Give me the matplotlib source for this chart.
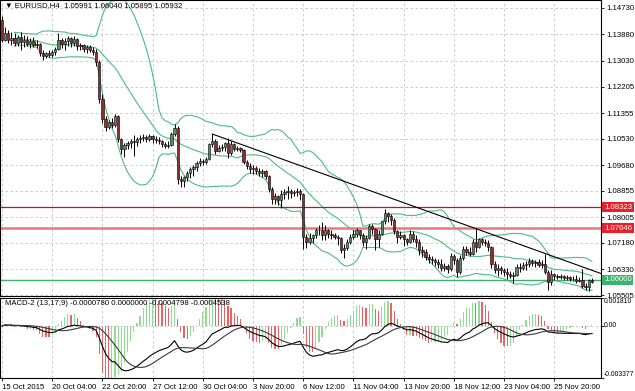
import matplotlib
matplotlib.use("Agg")
import numpy as np
import pandas as pd
from matplotlib import pyplot as plt

plt.rcParams['font.family'] = ['Liberation Sans', 'DejaVu Sans']

# EURUSD H4 bars, 15 Oct - 27 Nov 2015
opens = [
    1.1434, 1.1370, 1.1392, 1.1370, 1.1376, 1.1360, 1.1379, 1.1363, 1.1370, 1.1357, 1.1366, 1.1353, 1.1357, 1.1327, 1.1318,
    1.1327, 1.1321, 1.1331, 1.1340, 1.1370, 1.1357, 1.1366, 1.1376, 1.1360, 1.1373, 1.1350, 1.1353, 1.1340, 1.1347, 1.1337,
    1.1331, 1.1298, 1.1182, 1.1117, 1.1091, 1.1107, 1.1098, 1.1127, 1.1052, 1.1020, 1.1033, 1.1039, 1.1046, 1.1043, 1.1052,
    1.1055, 1.1059, 1.1052, 1.1062, 1.1052,
    1.1049, 1.1046, 1.1036, 1.1030, 1.1033, 1.1068, 1.1088, 1.0923, 1.0916, 1.0929, 1.0942, 1.0955, 1.0962, 1.0975, 1.0981,
    1.0978, 1.0988, 1.1036, 1.1046, 1.1013,
    1.1023, 1.1026, 1.1039, 1.1007, 1.1036, 1.1020, 1.1023, 1.1017, 1.0978, 1.0965, 1.0955, 1.0958, 1.0949, 1.0942, 1.0949,
    1.0933, 1.0890, 1.0858, 1.0868, 1.0855,
    1.0874, 1.0881, 1.0884, 1.0878, 1.0881, 1.0884, 1.0874, 1.0738, 1.0722, 1.0735, 1.0742, 1.0758, 1.0761, 1.0742, 1.0761,
    1.0748, 1.0745, 1.0738, 1.0735, 1.0696,
    1.0703, 1.0722, 1.0738, 1.0748, 1.0758, 1.0745, 1.0722, 1.0735, 1.0771, 1.0764, 1.0732, 1.0748, 1.0787, 1.0813, 1.0803,
    1.0793, 1.0755, 1.0738, 1.0745, 1.0729,
    1.0722, 1.0748, 1.0729, 1.0722, 1.0696, 1.0690, 1.0674, 1.0667, 1.0664, 1.0657, 1.0651, 1.0638, 1.0644, 1.0635, 1.0677,
    1.0664, 1.0625, 1.0670, 1.0699, 1.0690,
    1.0683, 1.0722, 1.0706, 1.0729, 1.0722, 1.0719, 1.0706, 1.0651, 1.0632, 1.0638, 1.0632, 1.0625, 1.0619, 1.0612, 1.0615,
    1.0641, 1.0638, 1.0648, 1.0651, 1.0661,
    1.0654, 1.0657, 1.0648, 1.0651, 1.0625, 1.0593, 1.0619, 1.0612, 1.0609, 1.0612, 1.0606, 1.0609, 1.0602, 1.0602, 1.0596,
    1.0599, 1.0580, 1.0577, 1.05991,
]
highs = [
    1.1447, 1.1412, 1.1402, 1.1395, 1.1392, 1.1386, 1.1395, 1.1386, 1.1382, 1.1376, 1.1379, 1.1370, 1.1360, 1.1337, 1.1331,
    1.1337, 1.1337, 1.1347, 1.1392, 1.1376, 1.1376, 1.1382, 1.1379, 1.1382, 1.1376, 1.1360, 1.1357, 1.1353, 1.1353, 1.1347,
    1.1340, 1.1305, 1.1198, 1.1127, 1.1114, 1.1120, 1.1133, 1.1130, 1.1055, 1.1039, 1.1046, 1.1052, 1.1065, 1.1059, 1.1065,
    1.1068, 1.1065, 1.1068, 1.1065, 1.1062,
    1.1059, 1.1049, 1.1043, 1.1046, 1.1075, 1.1101, 1.1094, 1.0933, 1.0933, 1.0949, 1.0962, 1.0968, 1.0981, 1.0991, 1.0988,
    1.0994, 1.1039, 1.1068, 1.1052, 1.1033,
    1.1036, 1.1043, 1.1055, 1.1046, 1.1039, 1.1030, 1.1026, 1.1020, 1.0984, 1.0975, 1.0968, 1.0965, 1.0958, 1.0955, 1.0952,
    1.0936, 1.0897, 1.0878, 1.0871, 1.0887,
    1.0890, 1.0900, 1.0890, 1.0887, 1.0894, 1.0890, 1.0878, 1.0748, 1.0751, 1.0748, 1.0767, 1.0774, 1.0784, 1.0774, 1.0764,
    1.0758, 1.0751, 1.0745, 1.0738, 1.0716,
    1.0729, 1.0748, 1.0761, 1.0767, 1.0761, 1.0751, 1.0745, 1.0780, 1.0780, 1.0767, 1.0758, 1.0790, 1.0826, 1.0816, 1.0810,
    1.0797, 1.0761, 1.0755, 1.0748, 1.0735,
    1.0761, 1.0755, 1.0742, 1.0732, 1.0709, 1.0699, 1.0683, 1.0677, 1.0670, 1.0667, 1.0667, 1.0654, 1.0651, 1.0686, 1.0683,
    1.0670, 1.0680, 1.0709, 1.0709, 1.0706,
    1.0732, 1.0764, 1.0735, 1.0735, 1.0729, 1.0726, 1.0709, 1.0661, 1.0651, 1.0644, 1.0638, 1.0638, 1.0628, 1.0625, 1.0651,
    1.0654, 1.0657, 1.0661, 1.0670, 1.0667,
    1.0664, 1.0667, 1.0664, 1.0683, 1.0632, 1.0632, 1.0622, 1.0619, 1.0619, 1.0615, 1.0615, 1.0612, 1.0612, 1.0615, 1.0609,
    1.0635, 1.0589, 1.0602, 1.06040,
]
lows = [
    1.1363, 1.1366, 1.1360, 1.1353, 1.1350, 1.1350, 1.1337, 1.1347, 1.1350, 1.1344, 1.1347, 1.1344, 1.1318, 1.1305, 1.1311,
    1.1314, 1.1314, 1.1321, 1.1337, 1.1344, 1.1337, 1.1350, 1.1347, 1.1350, 1.1337, 1.1337, 1.1331, 1.1327, 1.1331, 1.1321,
    1.1285, 1.1169, 1.1104, 1.1078, 1.1085, 1.1088, 1.1091, 1.1043, 1.1004, 1.0994, 1.1020, 1.1023, 1.0997, 1.1030, 1.1039,
    1.1046, 1.1043, 1.1046, 1.1039, 1.1039,
    1.1036, 1.1026, 1.1023, 1.1023, 1.1030, 1.1062, 1.0907, 1.0897, 1.0897, 1.0916, 1.0926, 1.0933, 1.0949, 1.0965, 1.0968,
    1.0971, 1.0984, 1.1026, 1.1004, 1.1010,
    1.1013, 1.1013, 1.0991, 1.1000, 1.1013, 1.1013, 1.1010, 1.0971, 1.0955, 1.0942, 1.0939, 1.0939, 1.0933, 1.0929, 1.0923,
    1.0881, 1.0842, 1.0842, 1.0839, 1.0829,
    1.0858, 1.0858, 1.0861, 1.0868, 1.0868, 1.0855, 1.0699, 1.0703, 1.0716, 1.0719, 1.0735, 1.0745, 1.0726, 1.0726, 1.0735,
    1.0732, 1.0732, 1.0712, 1.0686, 1.0670,
    1.0696, 1.0716, 1.0729, 1.0738, 1.0732, 1.0709, 1.0699, 1.0729, 1.0748, 1.0696, 1.0706, 1.0742, 1.0780, 1.0784, 1.0777,
    1.0748, 1.0719, 1.0729, 1.0709, 1.0712,
    1.0719, 1.0722, 1.0706, 1.0680, 1.0674, 1.0664, 1.0654, 1.0651, 1.0644, 1.0638, 1.0628, 1.0628, 1.0622, 1.0628, 1.0651,
    1.0609, 1.0619, 1.0664, 1.0680, 1.0677,
    1.0680, 1.0690, 1.0703, 1.0712, 1.0709, 1.0693, 1.0638, 1.0622, 1.0612, 1.0619, 1.0612, 1.0602, 1.0606, 1.0589, 1.0612,
    1.0625, 1.0632, 1.0632, 1.0641, 1.0644,
    1.0641, 1.0641, 1.0638, 1.0619, 1.0567, 1.0583, 1.0599, 1.0602, 1.0602, 1.0599, 1.0599, 1.0596, 1.0596, 1.0589, 1.0593,
    1.0573, 1.0567, 1.0564, 1.05895,
]
closes = [
    1.1370, 1.1392, 1.1370, 1.1376, 1.1360, 1.1379, 1.1363, 1.1370, 1.1357, 1.1366, 1.1353, 1.1357, 1.1327, 1.1318, 1.1327,
    1.1321, 1.1331, 1.1340, 1.1370, 1.1357, 1.1366, 1.1376, 1.1360, 1.1373, 1.1350, 1.1353, 1.1340, 1.1347, 1.1337, 1.1331,
    1.1298, 1.1182, 1.1117, 1.1091, 1.1107, 1.1098, 1.1127, 1.1052, 1.1020, 1.1033, 1.1039, 1.1046, 1.1043, 1.1052, 1.1055,
    1.1059, 1.1052, 1.1062, 1.1052, 1.1049,
    1.1046, 1.1036, 1.1030, 1.1033, 1.1068, 1.1088, 1.0923, 1.0916, 1.0929, 1.0942, 1.0955, 1.0962, 1.0975, 1.0981, 1.0978,
    1.0988, 1.1036, 1.1046, 1.1013, 1.1023,
    1.1026, 1.1039, 1.1007, 1.1036, 1.1020, 1.1023, 1.1017, 1.0978, 1.0965, 1.0955, 1.0958, 1.0949, 1.0942, 1.0949, 1.0933,
    1.0890, 1.0858, 1.0868, 1.0855, 1.0874,
    1.0881, 1.0884, 1.0878, 1.0881, 1.0884, 1.0874, 1.0738, 1.0722, 1.0735, 1.0742, 1.0758, 1.0761, 1.0742, 1.0761, 1.0748,
    1.0745, 1.0738, 1.0735, 1.0696, 1.0703,
    1.0722, 1.0738, 1.0748, 1.0758, 1.0745, 1.0722, 1.0735, 1.0771, 1.0764, 1.0732, 1.0748, 1.0787, 1.0813, 1.0803, 1.0793,
    1.0755, 1.0738, 1.0745, 1.0729, 1.0722,
    1.0748, 1.0729, 1.0722, 1.0696, 1.0690, 1.0674, 1.0667, 1.0664, 1.0657, 1.0651, 1.0638, 1.0644, 1.0635, 1.0677, 1.0664,
    1.0625, 1.0670, 1.0699, 1.0690, 1.0683,
    1.0722, 1.0706, 1.0729, 1.0722, 1.0719, 1.0706, 1.0651, 1.0632, 1.0638, 1.0632, 1.0625, 1.0619, 1.0612, 1.0615, 1.0641,
    1.0638, 1.0648, 1.0651, 1.0661, 1.0654,
    1.0657, 1.0648, 1.0651, 1.0625, 1.0593, 1.0619, 1.0612, 1.0609, 1.0612, 1.0606, 1.0609, 1.0602, 1.0602, 1.0596, 1.0599,
    1.0580, 1.0577, 1.0599, 1.05932,
]

tick_bars = [0, 16, 32, 48, 64, 80, 96, 112, 128, 144, 160, 176]
tick_labels = ["15 Oct 2015", "20 Oct 04:00", "22 Oct 20:00", "27 Oct 12:00", "30 Oct 04:00", "3 Nov 20:00",
               "6 Nov 12:00", "11 Nov 04:00", "13 Nov 20:00", "18 Nov 12:00", "23 Nov 04:00", "25 Nov 20:00"]
price_ticks = [1.14730, 1.13880, 1.13030, 1.12205, 1.11355, 1.10530, 1.09680, 1.08855,
               1.08005, 1.07180, 1.06330, 1.05505]
macd_ticks = [0.001810, 0.0, -0.003377]
macd_tick_labels = ["0.001810", "0.00", "-0.003377"]

# horizontal levels and trend line anchors
level_prices = [1.08323, 1.07646, 1.06000]
level_colors = ["#c81010", "#e87878", "#3cb371"]
level_widths = [0.9, 1.8, 1.0]
box_colors = ["#e8202a", "#e8202a", "#3cb371"]
trend_bars = [67, 151]
trend_prices = [1.1068, 1.0764]

header = "\u25bc EURUSD,H4  1.05991 1.06040 1.05895 1.05932"
macd_header = "MACD-2 (13,17,9) -0.0000780 0.0000000 -0.0004798 -0.0004538"

o = np.array(opens)
h = np.array(highs)
l = np.array(lows)
c = np.array(closes)
n = len(c)
x = np.arange(n)

# indicators computed from the closes
s = pd.Series(c)
bb_mid = s.rolling(20, min_periods=5).mean()
bb_sd = s.rolling(20, min_periods=5).std(ddof=0)
bb_up = bb_mid + 2 * bb_sd
bb_dn = bb_mid - 2 * bb_sd
macd = s.ewm(span=13, adjust=False).mean() - s.ewm(span=17, adjust=False).mean()
signal = macd.rolling(9, min_periods=1).mean()
hist = 3 * (macd - signal)
hist_up = hist.diff().fillna(0) >= 0

W, H = 635, 391
fig = plt.figure(figsize=(W / 100, H / 100), dpi=100)
ax = fig.add_axes([0, 1 - 296 / H, 601 / W, 296 / H])
ax2 = fig.add_axes([0, 13 / H, 601 / W, 80 / H], sharex=ax)

grid_kw = dict(color="#c4c4c4", linestyle=(0, (3, 3)), linewidth=0.6)
fs = 5.6

# candles
ax.vlines(x, l, h, color="black", linewidth=0.7, zorder=3)
body_lo = np.minimum(o, c)
body_h = np.maximum(np.abs(c - o), 0.00006)
body_col = np.where(c >= o, "#5a8a66", "#8e2e2e")
ax.bar(x, body_h, bottom=body_lo, width=0.72, color=body_col, edgecolor="black", linewidth=0.4, zorder=4)

# bollinger bands
for band in (bb_up, bb_mid, bb_dn):
    ax.plot(x, band, color="#4cbb86", linewidth=0.8, zorder=2)

x_lo, x_hi = -0.64, 190.9
for p, lc, lw, bc in zip(level_prices, level_colors, level_widths, box_colors):
    ax.axhline(p, color=lc, linewidth=lw, zorder=2)
    ax.text(1.005, p, "%.5f" % p, transform=ax.get_yaxis_transform(), fontsize=fs, color="white",
            va="center", ha="left", clip_on=False,
            bbox=dict(boxstyle="square,pad=0.2", fc=bc, ec="none"))

slope = (trend_prices[1] - trend_prices[0]) / (trend_bars[1] - trend_bars[0])
ax.plot([trend_bars[0], x_hi], [trend_prices[0], trend_prices[0] + slope * (x_hi - trend_bars[0])],
        color="black", linewidth=0.8, zorder=5)

ax.set_xlim(x_lo, x_hi)
ax.set_ylim(1.05474, 1.14987)
ax.set_xticks(tick_bars)
ax.set_yticks(price_ticks)
ax.set_yticklabels(["%.5f" % p for p in price_ticks])
ax.yaxis.tick_right()
ax.tick_params(axis="y", labelsize=fs, length=2.5, pad=1.5, width=0.6)
ax.tick_params(axis="x", labelbottom=False, length=0)
ax.grid(True, **grid_kw)
ax.text(0.008, 0.992, header, transform=ax.transAxes, va="top", ha="left", fontsize=fs)

# MACD panel
ax2.bar(x, hist, width=0.38, color=np.where(hist_up, "#90dc90", "#e86464"), zorder=2)
ax2.plot(x, macd, color="black", linewidth=0.8, zorder=3)
ax2.plot(x, signal, color="#3a3a3a", linewidth=0.8, zorder=3)
ax2.axhline(0, **grid_kw)
ax2.set_ylim(-0.003377, 0.001810)
ax2.set_yticks(macd_ticks)
ax2.set_yticklabels([])
ax2.yaxis.tick_right()
ax2.tick_params(axis="y", length=2.5, width=0.6)
tr = ax2.get_yaxis_transform()
for v, t, va in zip(macd_ticks, macd_tick_labels, ["top", "center", "bottom"]):
    ax2.text(1.004, v, t, transform=tr, fontsize=4.9, va=va, ha="left", clip_on=False)
ax2.set_xticks(tick_bars)
ax2.set_xticklabels(tick_labels, ha="left", fontsize=fs)
ax2.tick_params(axis="x", length=2.5, pad=1.5, width=0.6)
ax2.grid(True, axis="x", **grid_kw)
ax2.text(0.008, 0.97, macd_header, transform=ax2.transAxes, va="top", ha="left", fontsize=fs)

for a in (ax, ax2):
    for sp in a.spines.values():
        sp.set_linewidth(0.8)
        sp.set_color("black")

fig.savefig("out.png", dpi=100)
